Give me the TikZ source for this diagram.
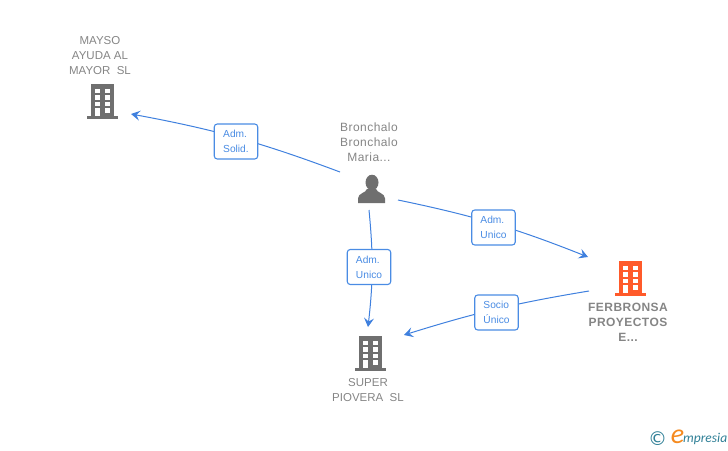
\documentclass[tikz,border=0pt]{standalone}
\usepackage{fontspec}
\setmainfont{Liberation Sans}
\newfontfamily\markfont{Carlito}
\newfontfamily\symbfont{DejaVu Sans}
\usetikzlibrary{arrows.meta}

\definecolor{linkblue}{HTML}{3F80DE}
\definecolor{boxblue}{HTML}{4A8CE4}
\definecolor{iconGray}{HTML}{6F6F6F}
\definecolor{textGray}{HTML}{858585}
\definecolor{iconOrange}{HTML}{FF5A2A}
\definecolor{markTeal}{HTML}{2F7F96}
\definecolor{markOrange}{HTML}{F58A1F}

\tikzset{
  link/.style={draw=linkblue,line width=1pt},
  linkto/.style={link,-{Stealth[length=9pt,width=10pt,inset=3.5pt]}},
  role/.style={draw=boxblue,line width=1.1pt,fill=white,rounded corners=3pt,
    minimum width=43.5pt,minimum height=35pt,inner sep=0pt,align=left,
    text=boxblue,font=\fontsize{10.2}{15}\selectfont},
  entity/.style={text=textGray,align=center,inner sep=0pt,
    font=\fontsize{11.5}{15}\selectfont},
  spaced/.style={font=\fontsize{12}{15}\selectfont\addfontfeature{LetterSpace=3.7}},
  spacedbold/.style={font=\fontsize{12}{15}\selectfont\bfseries\addfontfeature{LetterSpace=3.7}},
  building/.pic={
    \fill[pic actions] (-11.5,-17) rectangle (11.5,15);
    \fill[pic actions] (-16,15) rectangle (15.5,17.5);
    \foreach \wy in {-12.5,-6,0.5}
      \foreach \wx in {-7.5,2.5}
        \fill[white] (\wx,\wy) rectangle ++(5,4.6);
    \fill[white] (-7.5,7) rectangle (-2.5,15);
    \fill[white] (2.5,7) rectangle (7.5,11.6);
  }
}

\begin{document}
\begin{tikzpicture}[x=1pt,y=-1pt]
  \useasboundingbox (0,0) rectangle (728,450);

  \coordinate (personW) at (340,172);
  \coordinate (personE) at (398,200);
  \coordinate (personS) at (369,210);
  \coordinate (maysoIn) at (131,114);
  \coordinate (ferbIn) at (588,257);
  \coordinate (ferbOut) at (589,291);
  \coordinate (superN) at (368,327);
  \coordinate (superE) at (404,335);

  \draw[linkto] (personW) to[bend right=5] (maysoIn);
  \draw[linkto] (personE) to[bend left=5] (ferbIn);
  \draw[linkto] (personS) to[bend left=6] (superN);
  \draw[linkto] (ferbOut) to[bend right=4] (superE);

  \node[role] (solid) at (236,141.5) {Adm.\\Solid.};
  \node[role] (unicoA) at (493.5,227.5) {Adm.\\Unico};
  \node[role] (unicoB) at (369,267) {Adm.\\Unico};
  \node[role] (socio) at (496.5,312.5) {Socio\\Único};

  \pic[iconGray] at (102.5,101) {building};
  \pic[iconGray] at (370.5,353) {building};
  \pic[iconOrange] at (630.5,278) {building};

  % person icon
  \fill[iconGray] (372,182.5) ellipse (6.5 and 7.8);
  \fill[iconGray] (367,189) .. controls (366,193) and (358,193) .. (358,198.5)
    -- (358,203) -- (385,203) -- (385,198.5)
    .. controls (385,193) and (377,193) .. (376,189) -- cycle;

  \node[entity] (mayso) at (100,56) {MAYSO\\AYUDA AL\\MAYOR\ \ SL};
  \node[entity,spaced] (bronchalo) at (369,142) {Bronchalo\\Bronchalo\\Maria...};
  \node[entity] (super) at (368,390.5) {SUPER\\PIOVERA\ \ SL};
  \node[entity,spacedbold] (ferbronsa) at (628,322)
    {FERBRONSA\\PROYECTOS\\E...};

  % watermark
  \node[text=markTeal,inner sep=0pt,font=\symbfont\fontsize{19}{19}\selectfont] (copyr) at (657.5,438.5) {©};
  \node[text=markOrange,inner sep=0pt,font=\markfont\itshape\fontsize{28}{28}\selectfont] (markE) at (677.5,436.5) {e};
  \node[text=markTeal,inner sep=0pt,anchor=west,font=\markfont\itshape\fontsize{13.5}{13.5}\selectfont] (markT) at (683,439) {mpresia};
\end{tikzpicture}
\end{document}
